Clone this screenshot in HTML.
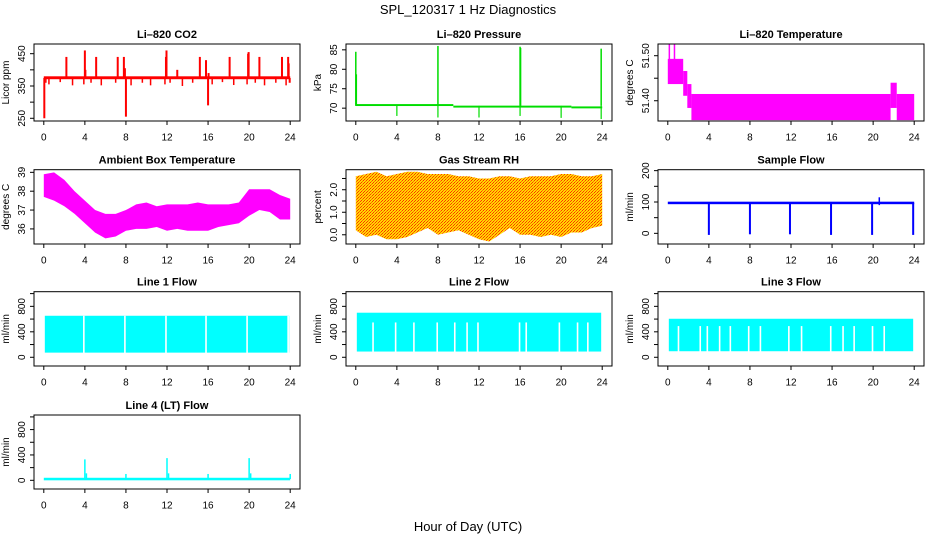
<!DOCTYPE html>
<html><head><meta charset="utf-8"><style>
html,body{margin:0;padding:0;background:#fff}
svg{display:block;font-family:"Liberation Sans",Arial,sans-serif}
</style></head><body>
<svg id="chart" width="936" height="540" viewBox="0 0 936 540" xmlns="http://www.w3.org/2000/svg">
<defs>
<pattern id="rhpat" width="3" height="3" patternUnits="userSpaceOnUse">
<rect width="3" height="3" fill="#ffd800"/><rect x="0" y="0" width="1" height="1" fill="#ff3000"/><rect x="2" y="1" width="1" height="1" fill="#ff6a00"/><rect x="1" y="2" width="1" height="1" fill="#ff3000"/>
</pattern>
</defs>
<text x="468" y="14" text-anchor="middle" font-size="13">SPL_120317  1 Hz Diagnostics</text>
<text x="468" y="531" text-anchor="middle" font-size="13">Hour of Day (UTC)</text>
</svg>
<script>
// ---- data ----
const xTicks = [0,4,8,12,16,20,24];
const co2Base = [371,380];
const co2SpikeHours = [0.05,2.2,4.0,4.05,5.1,7.2,7.8,7.9,8.0,11.9,11.95,13.0,15.2,15.8,16.0,16.05,18.1,19.9,19.95,21.0,23.2,23.8,23.85,23.95];
const co2SpikeValues = [250,440,460,400,440,440,440,405,255,440,460,400,440,430,290,390,440,450,455,440,440,440,420,360];
const co2DipHours = [0.2,0.5,1.6,2.8,3.9,4.6,5.6,7.0,8.5,9.6,10.4,11.8,12.3,13.5,14.5,16.4,17.4,18.5,19.8,20.6,21.5,22.6,23.6];
const co2DipValues = [360,355,362,352,355,360,352,360,352,360,352,355,360,350,360,355,362,353,355,360,352,360,352];
const presHours = [0,9.5,9.5,21,21,24];
const presValues = [70.8,70.8,70.4,70.4,70.2,70.2];
const presSpikeHours = [0.0,0.05,8.0,16.0,16.05,23.9];
const presSpikeValues = [84.5,78.7,86.0,85.8,85.5,85.3];
const presDipHours = [4.0,8.0,12.0,16.0,20.0,23.9];
const presDipValues = [68.0,67.6,67.6,68.0,67.5,67.2];
const tempStartHours = [0,1.5,1.9,2.3,21.7,22.3];
const tempEndHours = [1.5,1.9,2.3,21.7,22.3,24];
const tempLow = [51.437,51.411,51.384,51.357,51.384,51.357];
const tempHigh = [51.493,51.466,51.437,51.415,51.44,51.415];
const tempSpikeHours = [0.15,0.65];
const tempSpikeValues = [51.525,51.525];
const hourGrid = [0,1,2,3,4,5,6,7,8,9,10,11,12,13,14,15,16,17,18,19,20,21,22,23,24];
const ambLow = [37.7,37.5,37.2,36.8,36.3,35.8,35.5,35.6,35.9,36.0,36.0,36.1,35.9,36.0,35.9,35.9,35.9,36.1,36.2,36.3,36.7,37.0,36.9,36.5,36.5];
const ambHigh = [38.9,39.0,38.6,38.0,37.5,37.0,36.8,36.8,37.0,37.3,37.4,37.2,37.3,37.3,37.3,37.4,37.3,37.3,37.3,37.4,38.1,38.1,38.1,37.8,37.6];
const rhLow = [0.2,-0.1,0.0,-0.2,-0.2,-0.1,0.1,0.3,0.0,0.1,0.2,0.0,-0.2,-0.3,0.0,0.3,0.0,0.0,-0.1,0.0,-0.1,0.1,0.1,0.3,0.4];
const rhHigh = [2.6,2.7,2.8,2.6,2.7,2.8,2.8,2.7,2.7,2.7,2.6,2.6,2.5,2.5,2.6,2.6,2.5,2.6,2.6,2.6,2.7,2.7,2.6,2.6,2.7];
const sampleBase = [93,101];
const sampleDipHours = [4.0,8.0,11.9,15.9,19.9,23.9];
const sampleDipValues = [-5,-3,-3,-5,-5,-5];
const sampleSpikeHours = [20.6];
const sampleSpikeValues = [115];
const line1Range = [73,652];
const line1GapHours = [3.9,7.9,11.9,15.8,19.8,23.8];
const line1GapTops = [652,652,652,652,652,652];
const line2Range = [90,700];
const line2GapHours = [1.68,3.88,5.66,7.93,9.64,10.84,11.9,15.95,16.6,19.83,21.6,22.6];
const line2GapTops = [547,547,547,547,547,547,547,547,547,547,547,547];
const line3Range = [95,605];
const line3GapHours = [1.04,3.16,3.85,5.05,6.09,7.88,9.02,11.79,13.03,15.87,17.07,18.15,19.94,21.08];
const line3GapTops = [490,490,490,490,490,490,490,490,490,490,490,490,490,490];
const line4Base = [0,40];
const line4SpikeHours = [4.0,4.15,8.0,12.0,12.15,16.0,20.0,20.15,24.0];
const line4SpikeValues = [330,110,100,350,110,100,350,110,100];

// ---- drawing ----
const svg = document.getElementById('chart');
const NS = 'http://www.w3.org/2000/svg';
function mk(tag, attrs, parent){
  const e = document.createElementNS(NS, tag);
  for (const k in attrs) e.setAttribute(k, attrs[k]);
  (parent||svg).appendChild(e);
  return e;
}
function panel(name, title, ytitle, col, row, ymin, ymax, yticks, ylabels){
  const left = [34,346,658][col], top=[44,169.7,291.7,415][row], bottom=[121,244,366,489][row];
  const w = 266;
  const g = mk('g', {});
  
  
  const P = {g, left, top, bottom,
    x: h => left + 9.8 + h*(246.4/24),
    y: v => top + (ymax - v)/(ymax - ymin)*(bottom - top)};
  const t = mk('text', {x:left+w/2, y:top-6, 'text-anchor':'middle', 'font-size':'11', 'font-weight':'bold'}, g);
  t.textContent = title;
  
  
  P.marks = mk('g', {}, g);
  
  
  const box = mk('rect', {x:left, y:top, width:w, height:bottom-top, fill:'none', stroke:'#000', 'stroke-width':1}, g);
  
  
  // x axis
  const xa = mk('g', {}, g);
  
  
  xTicks.forEach(h => {
    mk('line', {x1:P.x(h), x2:P.x(h), y1:bottom, y2:bottom+4, stroke:'#000'}, xa);
    const l = mk('text', {x:P.x(h), y:bottom+19.5, 'text-anchor':'middle', 'font-size':'10'}, xa);
    l.textContent = h;
  });
  // y axis
  const ya = mk('g', {}, g);
  
  
  yticks.forEach((v,i) => {
    mk('line', {x1:left-4, x2:left, y1:P.y(v), y2:P.y(v), stroke:'#000'}, ya);
    if (ylabels[i] !== '') {
      const yy = P.y(v);
      const l = mk('text', {x:left-9, y:yy, 'text-anchor':'middle', 'font-size':'10', transform:`rotate(-90 ${left-9} ${yy})`}, ya);
      l.textContent = ylabels[i];
    }
  });
  const yt = mk('text', {x:left-25, y:(top+bottom)/2, 'text-anchor':'middle', 'font-size':'10', transform:`rotate(-90 ${left-25} ${(top+bottom)/2})`}, g);
  yt.textContent = ytitle;
  
  
  return P;
}
function band(P, lo, hi, color, h0, h1){
  const a = h0===undefined?0:h0, b = h1===undefined?24:h1;
  mk('rect', {x:P.x(a), y:P.y(hi), width:P.x(b)-P.x(a), height:Math.max(1,P.y(lo)-P.y(hi)), fill:color}, P.marks);
}
function spikes(P, hours, vals, from, color, wd){
  hours.forEach((h,i) => {
    const y1=P.y(from), y2=P.y(vals[i]);
    mk('rect', {x:P.x(h)-wd/2, y:Math.min(y1,y2), width:wd, height:Math.abs(y2-y1), fill:color}, P.marks);
  });
}
function area(P, hours, lo, hi, fill){
  let pts = hours.map((h,i)=>P.x(h)+','+P.y(hi[i]));
  for (let i=hours.length-1;i>=0;i--) pts.push(P.x(hours[i])+','+P.y(lo[i]));
  mk('polygon', {points:pts.join(' '), fill}, P.marks);
}

// CO2
let P = panel('co2-panel','Li\u2013820 CO2','Licor ppm',0,0,241.6,480,[250,300,350,400,450],['250','','350','','450']);
band(P, co2Base[0], co2Base[1], '#ff0000');
spikes(P, co2SpikeHours, co2SpikeValues, 375, '#ff0000', 2);
spikes(P, co2DipHours, co2DipValues, 375, '#ff0000', 1.5);

// Pressure
P = panel('pressure-panel','Li\u2013820 Pressure','kPa',1,0,66.7,86.5,[70,75,80,85],['70','75','80','85']);
for (let i=0;i<presHours.length-1;i+=2) band(P, presValues[i]-0.25, presValues[i]+0.25, '#00dd00', presHours[i], presHours[i+1]);
spikes(P, presSpikeHours, presSpikeValues, 70.6, '#00dd00', 1.5);
spikes(P, presDipHours, presDipValues, 70.6, '#00dd00', 1.2);

// Li-820 temperature
P = panel('temperature-panel','Li\u2013820 Temperature','degrees C',2,0,51.355,51.526,[51.40,51.45,51.50],['51.40','','51.50']);
tempStartHours.forEach((h,i)=>band(P, tempLow[i], tempHigh[i], '#ff00ff', h, tempEndHours[i]));
spikes(P, tempSpikeHours, tempSpikeValues, 51.48, '#ff00ff', 1.5);

// Ambient box temp
P = panel('ambient-temp-panel','Ambient Box Temperature','degrees C',0,1,35.2,39.14,[36,37,38,39],['36','37','38','39']);
area(P, hourGrid, ambLow, ambHigh, '#ff00ff');

// RH
P = panel('rh-panel','Gas Stream RH','percent',1,1,-0.41,2.89,[0,0.5,1,1.5,2,2.5],['0.0','','1.0','','2.0','']);
area(P, hourGrid, rhLow, rhHigh, 'url(#rhpat)');

// Sample flow
P = panel('sample-flow-panel','Sample Flow','ml/min',2,1,-34,203,[0,50,100,150,200],['0','','100','','200']);
band(P, sampleBase[0], sampleBase[1], '#0000ff');
spikes(P, sampleDipHours, sampleDipValues, 97, '#0000ff', 2);
spikes(P, sampleSpikeHours, sampleSpikeValues, 90, '#0000ff', 1.5);

// Line flows
const flowTicks=[0,200,400,600,800,1000], flowLabels=['0','','400','','800',''];
function flowPanel(name,title,col,row,range,gh,gt){
  const Q = panel(name,title,'ml/min',col,row,-137,1030,flowTicks,flowLabels);
  band(Q, range[0], range[1], '#00ffff', 0.1, 23.9);
  gh.forEach((h,i)=>mk('rect',{x:Q.x(h)-0.8,y:Q.y(gt[i]),width:1.6,height:Q.y(range[0])-Q.y(gt[i])+1,fill:'#fff'},Q.marks));
  return Q;
}
flowPanel('line1-flow-panel','Line 1 Flow',0,2,line1Range,line1GapHours,line1GapTops);
flowPanel('line2-flow-panel','Line 2 Flow',1,2,line2Range,line2GapHours,line2GapTops);
flowPanel('line3-flow-panel','Line 3 Flow',2,2,line3Range,line3GapHours,line3GapTops);
P = panel('line4-flow-panel','Line 4 (LT) Flow','ml/min',0,3,-137,1030,flowTicks,flowLabels);
band(P, line4Base[0], line4Base[1], '#00ffff');
spikes(P, line4SpikeHours, line4SpikeValues, 20, '#00ffff', 1.5);
</script>
</body></html>
